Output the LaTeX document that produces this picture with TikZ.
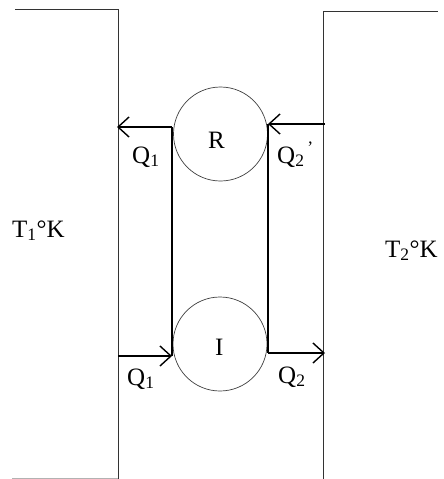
\documentclass[tikz,border=0pt]{standalone}
\usepackage{fontspec}
\setmainfont{Liberation Serif}
\usetikzlibrary{arrows.meta}
\begin{document}
\begin{tikzpicture}[x=1pt,y=-1pt,
  wall/.style={line width=1pt,draw=black!80},
  flow/.style={line width=1.6pt,draw=black},
  flowarrow/.style={flow,-{Straight Barb[length=11pt,width=20pt,line width=1.4pt]}},
  engine/.style={circle,draw=black!75,line width=0.7pt,minimum size=94pt,inner sep=0pt},
  lbl/.style={inner sep=0pt,anchor=base west,font=\fontsize{25}{29}\selectfont}]
\useasboundingbox (0,0) rectangle (444,479);
% walls
\draw[wall] (15,9) -- (118,9) -- (118,479);
\draw[wall] (323,479) -- (323,11) -- (438,11);
\draw[draw=black!30,line width=0.8pt] (12,478) -- (118,478);
% engines
\node[engine] (R) at (220.5,134) {};
\node[engine] (I) at (220,344) {};
% connection points
\coordinate (rl) at (172,127);
\coordinate (rr) at (268,124);
\coordinate (il) at (172,356);
\coordinate (ir) at (268,353);
\coordinate (wl1) at (117,127);
\coordinate (wr1) at (325,124);
\coordinate (wl2) at (118,356);
\coordinate (wr2) at (325,353);
% verticals
\draw[flow] (rl) -- (il);
\draw[flow] (rr) -- (ir);
% arrows
\draw[flowarrow] (rl) -- (wl1);
\draw[flowarrow] (wr1) -- (rr);
\draw[flowarrow] (wl2) -- (il);
\draw[flowarrow] (ir) -- (wr2);
% labels
\node[lbl] (tR) at (208,148) {R};
\node[lbl] (tI) at (215,355) {I};
\node[lbl] (q1a) at (132,163) {Q\textsubscript{1}};
\node[lbl] (q2a) at (277,163) {Q\textsubscript{2}\textsuperscript{\,’}};
\node[lbl] (q1b) at (127,385) {Q\textsubscript{1}};
\node[lbl] (q2b) at (278,383) {Q\textsubscript{2}};
\node[lbl] (t1) at (12,237) {T\textsubscript{1}°K};
\node[lbl] (t2) at (385,257) {T\textsubscript{2}°K};
\end{tikzpicture}
\end{document}
